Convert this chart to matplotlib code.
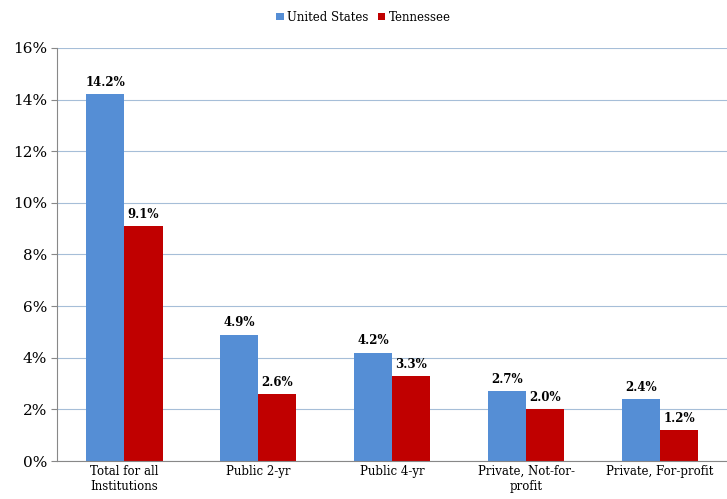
import matplotlib.pyplot as plt
import numpy as np

categories = ["Total for all\nInstitutions", "Public 2-yr", "Public 4-yr",
              "Private, Not-for-\nprofit", "Private, For-profit"]
us_values = [14.2, 4.9, 4.2, 2.7, 2.4]
tn_values = [9.1, 2.6, 3.3, 2.0, 1.2]

plt.rcParams["font.family"] = "DejaVu Serif"

fig = plt.figure(figsize=(7.27, 4.99), dpi=100)
ax = fig.add_axes([0.079, 0.076, 0.921, 0.828])

x = np.arange(len(categories))
w = 0.285
b1 = ax.bar(x - w / 2, us_values, w, color="#558ED5", label="United States")
b2 = ax.bar(x + w / 2, tn_values, w, color="#C00000", label="Tennessee")

for bars in (b1, b2):
    for bar in bars:
        h = bar.get_height()
        ax.text(bar.get_x() + bar.get_width() / 2, h + 0.2, f"{h:.1f}%",
                ha="center", va="bottom", fontsize=8.5, fontweight="bold")

ax.set_xlim(-0.5, len(categories) - 0.5)
ax.set_ylim(0, 16)
ax.set_yticks(range(0, 17, 2))
ax.set_yticklabels([f"{v}%" for v in range(0, 17, 2)], fontsize=11)
ax.set_xticks(x)
ax.set_xticklabels(categories, fontsize=8.5)
ax.tick_params(axis="x", length=0, pad=3)
ax.tick_params(axis="y", length=4, color="#888888")
ax.grid(True, axis="y", color="#A6BED8", linewidth=0.8)
ax.set_axisbelow(True)
for s in ("top", "right"):
    ax.spines[s].set_visible(False)
ax.spines["left"].set_color("#888888")
ax.spines["bottom"].set_color("#888888")

fig.legend(loc="upper center", bbox_to_anchor=(0.5, 1.0), ncol=2, frameon=False,
           fontsize=8.5, handlelength=0.6, handleheight=0.6, columnspacing=0.8,
           handletextpad=0.3)

fig.savefig("out.png", dpi=100)
